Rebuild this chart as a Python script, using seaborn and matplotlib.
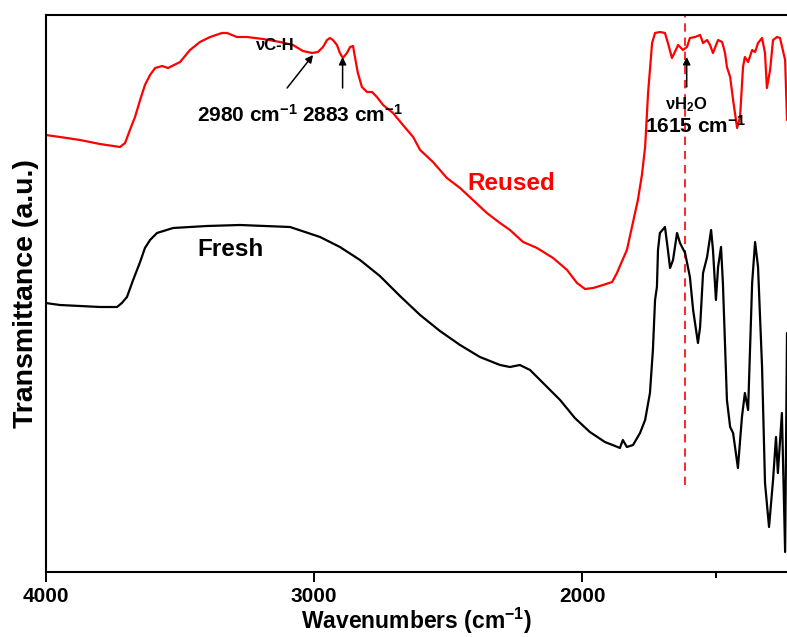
import matplotlib
matplotlib.use("Agg")
import matplotlib.pyplot as plt
import seaborn as sns
import pandas as pd
from matplotlib.ticker import FixedLocator

# ---------------- data ----------------
reused_wn = [4000, 3947, 3872, 3798, 3723, 3704, 3686, 3667, 3648, 3630, 3611, 3592, 3566, 3544,
             3499, 3462, 3425, 3387, 3343, 3324, 3287, 3249, 3190, 3126, 3078, 3041, 3007, 2985,
             2966, 2951, 2940, 2929, 2914, 2903, 2892, 2877, 2865, 2854, 2847, 2836, 2821, 2802,
             2783, 2765, 2742, 2705, 2668, 2630, 2604, 2556, 2504, 2455, 2407, 2355, 2306, 2269,
             2220, 2168, 2108, 2056, 2019, 1989, 1959, 1922, 1888, 1870, 1859, 1833, 1810, 1792,
             1777, 1765, 1754, 1739, 1728, 1710, 1691, 1680, 1665, 1654, 1642, 1624, 1609, 1598,
             1579, 1560, 1549, 1534, 1523, 1512, 1493, 1478, 1467, 1460, 1448, 1437, 1422, 1411,
             1400, 1393, 1381, 1366, 1355, 1344, 1329, 1318, 1311, 1299, 1288, 1273, 1262, 1243,
             1236]
reused_t = [85.0, 84.6, 84.0, 83.2, 82.6, 83.4, 86.0, 88.6, 92.0, 95.0, 97.0, 98.4, 98.8, 98.4,
            99.6, 102.0, 103.6, 104.6, 105.4, 105.4, 104.6, 104.6, 104.2, 103.6, 103.0, 101.8, 101.4, 101.6,
            102.6, 104.0, 104.4, 104.0, 103.0, 101.4, 100.4, 101.4, 102.6, 102.8, 100.6, 97.4, 94.6, 93.6,
            93.6, 92.6, 91.0, 89.4, 87.0, 84.6, 82.0, 79.6, 76.4, 74.4, 72.0, 69.4, 67.4, 66.0,
            63.6, 62.4, 60.4, 58.0, 55.4, 54.2, 54.4, 55.0, 55.6, 57.4, 58.8, 62.0, 67.6, 72.0,
            77.0, 82.6, 93.4, 103.4, 105.4, 105.6, 105.4, 103.4, 100.4, 101.6, 103.0, 102.0, 102.6, 104.4,
            104.6, 105.0, 103.4, 104.0, 103.0, 101.4, 104.0, 103.6, 101.4, 98.6, 96.6, 92.0, 86.4, 88.6,
            98.6, 100.6, 99.6, 102.0, 101.6, 103.4, 104.4, 101.4, 94.4, 98.0, 104.0, 104.6, 104.4, 100.0,
            88.0]

fresh_wn = [4000, 3947, 3872, 3798, 3734, 3716, 3697, 3674, 3648, 3630, 3611, 3585, 3525, 3399,
            3276, 3089, 2977, 2903, 2828, 2754, 2679, 2604, 2530, 2455, 2381, 2306, 2269, 2232,
            2194, 2138, 2082, 2027, 1971, 1915, 1877, 1859, 1848, 1833, 1810, 1784, 1765, 1747,
            1736, 1728, 1721, 1717, 1710, 1691, 1680, 1672, 1661, 1646, 1635, 1616, 1598, 1586,
            1568, 1560, 1549, 1534, 1519, 1512, 1501, 1493, 1482, 1475, 1460, 1448, 1437, 1419,
            1404, 1393, 1381, 1366, 1355, 1344, 1329, 1318, 1303, 1288, 1277, 1270, 1255, 1243,
            1236]
fresh_t = [51.4, 51.0, 50.8, 50.6, 50.6, 51.4, 52.6, 56.0, 59.6, 62.4, 64.0, 65.4, 66.4, 66.8,
           67.0, 66.6, 64.6, 62.6, 60.0, 56.8, 52.8, 49.0, 45.8, 43.0, 40.6, 39.0, 38.6, 39.0,
           38.0, 35.0, 32.0, 28.4, 25.6, 23.6, 22.8, 22.4, 24.0, 22.6, 23.0, 25.4, 28.0, 33.4,
           42.0, 52.0, 54.6, 62.0, 65.4, 66.6, 62.0, 58.4, 60.0, 65.4, 63.4, 61.4, 56.6, 50.0,
           43.4, 46.6, 57.4, 60.6, 66.0, 62.0, 52.0, 58.6, 62.6, 55.4, 32.0, 26.6, 25.4, 18.4,
           28.6, 33.4, 30.0, 55.4, 63.6, 58.6, 38.6, 15.4, 6.6, 16.0, 24.6, 17.4, 29.4, 1.6,
           45.4]

x_ticks = [4000, 3000, 2000]
x_minor = [1500]
ch_peaks = [2980, 2883]
h2o_peak = 1615

# ---------------- styling ----------------
sns.set_theme(style="white")
plt.rcParams["font.family"] = ["Liberation Sans", "DejaVu Sans"]
plt.rcParams["font.weight"] = "bold"
plt.rcParams["text.color"] = "black"
plt.rcParams["axes.labelcolor"] = "black"
plt.rcParams["xtick.color"] = "black"
plt.rcParams["mathtext.fontset"] = "custom"
plt.rcParams["mathtext.rm"] = "Liberation Sans:bold"
plt.rcParams["mathtext.it"] = "Liberation Sans:bold"
plt.rcParams["mathtext.bf"] = "Liberation Sans:bold"
plt.rcParams["mathtext.default"] = "regular"

df = pd.concat([
    pd.DataFrame({"wn": reused_wn, "T": reused_t, "sample": "Reused"}),
    pd.DataFrame({"wn": fresh_wn, "T": fresh_t, "sample": "Fresh"}),
])

W, H = 787, 637
fig = plt.figure(figsize=(W / 100, H / 100), dpi=100)
ax = fig.add_axes([45.7 / W, 65 / H, (W - 45.7) / W, 557 / H])

sns.lineplot(data=df, x="wn", y="T", hue="sample",
             palette={"Reused": "#ff0000", "Fresh": "black"},
             estimator=None, legend=False, linewidth=1.6, ax=ax)

ax.set_xlim(4000, 1236)
ax.set_ylim(-2.4, 109)

# dashed line at the water band
ax.plot([h2o_peak, h2o_peak], [15, 109], color="#ff0000", lw=1.2,
        linestyle=(0, (5, 3.5)), zorder=1)

# axes / ticks
ax.xaxis.set_major_locator(FixedLocator(x_ticks))
ax.xaxis.set_minor_locator(FixedLocator(x_minor))
ax.set_xticklabels([str(v) for v in x_ticks])
ax.set_yticks([])
ax.tick_params(axis="x", which="major", direction="out", length=7.5, width=1.4,
               pad=3, labelsize=15, colors="black", bottom=True)
ax.tick_params(axis="x", which="minor", direction="out", length=4, width=1.4, bottom=True)
for lab in ax.get_xticklabels():
    lab.set_fontweight("bold")
for side in ["left", "top", "bottom"]:
    ax.spines[side].set_visible(True)
    ax.spines[side].set_color("black")
    ax.spines[side].set_linewidth(1.5)
ax.spines["right"].set_visible(False)

ax.set_xlabel("Wavenumbers (cm$^{-1}$)", fontsize=16.5, fontweight="bold",
              labelpad=0, color="black")
ax.set_ylabel("Transmittance (a.u.)", fontsize=20.5, fontweight="bold",
              labelpad=5, color="black")

# annotations
arrow = dict(arrowstyle="-|>", color="black", lw=1.1, mutation_scale=11,
             shrinkA=0, shrinkB=0)
ax.annotate("", xy=(3003, 101.0), xytext=(3100, 94.4), arrowprops=arrow)
ax.annotate("", xy=(ch_peaks[1] + 10, 100.6), xytext=(ch_peaks[1] + 10, 94.4), arrowprops=arrow)
ax.annotate("", xy=(h2o_peak - 5, 100.6), xytext=(h2o_peak - 5, 94.6), arrowprops=arrow)

ax.text(3145, 103, "νC-H", fontsize=12, fontweight="bold", ha="center", va="center")
ax.text(3436, 87.6, "2980 cm$^{-1}$", fontsize=15, fontweight="bold", ha="left", va="baseline")
ax.text(3044, 87.6, "2883 cm$^{-1}$", fontsize=15, fontweight="bold", ha="left", va="baseline")
ax.text(1691, 90.2, "νH$_2$O", fontsize=12, fontweight="bold", ha="left", va="baseline")
ax.text(1765, 85.4, "1615 cm$^{-1}$", fontsize=15, fontweight="bold", ha="left", va="baseline")
ax.text(2429, 74.0, "Reused", fontsize=17.5, fontweight="bold", color="#ff0000",
        ha="left", va="baseline")
ax.text(3436, 60.8, "Fresh", fontsize=17.5, fontweight="bold", color="black",
        ha="left", va="baseline")

fig.savefig("out.png", dpi=100, facecolor="white")
